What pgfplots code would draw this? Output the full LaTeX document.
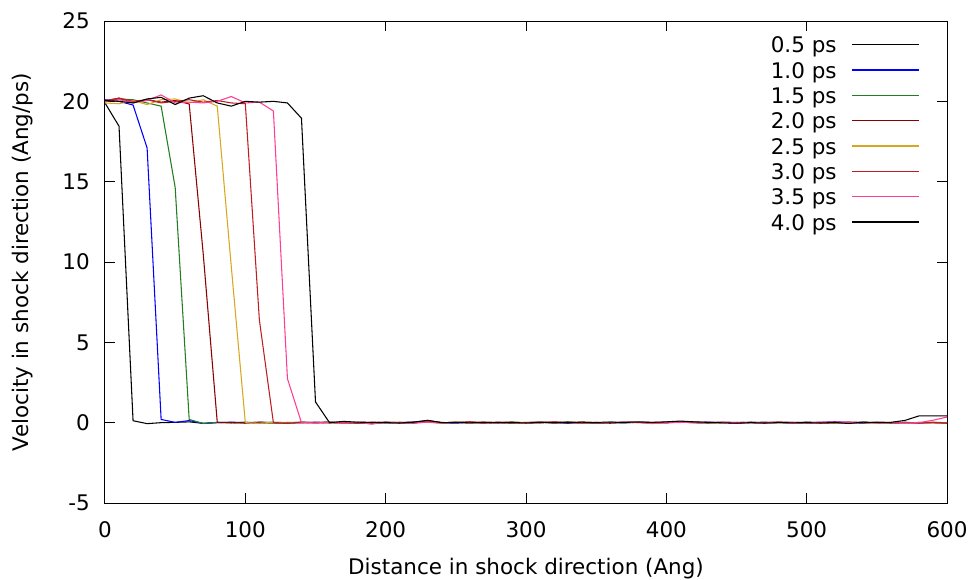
\documentclass[border=0pt]{standalone}
\usepackage{fontspec}
\setmainfont{DejaVu Sans}
\usepackage{pgfplots}
\usepackage{pgfplotstable}
\pgfplotsset{compat=1.18}
\definecolor{cA}{RGB}{0,0,0}
\definecolor{cB}{RGB}{0,0,255}
\definecolor{cC}{RGB}{34,125,34}
\definecolor{cD}{RGB}{139,0,0}
\definecolor{cE}{RGB}{218,165,32}
\definecolor{cF}{RGB}{190,30,35}
\definecolor{cG}{RGB}{255,60,150}
\definecolor{cH}{RGB}{0,0,0}
\pgfplotstableread{
x     s1     s2     s3     s4     s5     s6     s7     s8
0   19.90  20.10  20.00  20.00  19.90  20.05  20.00  20.05
10  18.45  20.00  20.15  20.20  19.85  20.20  20.10  20.00
20   0.12  19.77  20.10  19.90  20.05  20.00  19.95  19.90
30  -0.06  17.10  19.90  20.10  19.80  20.10  20.05  20.15
40   0.00   0.20  19.70  19.95  20.10  19.90  20.40  20.25
50   0.02   0.02  14.65  20.05  20.15  20.00  19.90  19.80
60   0.05   0.13   0.20  19.84  19.90  20.10  19.95  20.20
70  -0.04  -0.05  -0.05  10.50  20.10  19.95  19.90  20.35
80   0.01   0.00   0.02   0.02  19.70  20.05  20.00  19.90
90   0.00   0.03  -0.02   0.01   9.70  19.90  20.30  19.70
100 -0.02   0.01   0.03  -0.01   0.00  19.85  19.90  20.00
110  0.03  -0.02   0.00   0.02  -0.03   6.40  19.95  19.95
120  0.01   0.02  -0.03   0.00   0.02   0.00  19.40  20.00
130 -0.03   0.00   0.01  -0.02   0.01  -0.02   2.74  19.90
140  0.02  -0.01   0.02   0.03  -0.01   0.01   0.00  18.95
150  0.00   0.03  -0.01   0.01   0.02   0.00  -0.01   1.29
160  0.04   0.01   0.02  -0.02   0.00   0.02   0.01   0.00
170 -0.02  -0.03   0.00   0.02  -0.03   0.01  -0.02   0.08
180  0.01   0.02  -0.04   0.00   0.01  -0.03   0.02   0.03
190 -0.01   0.00   0.03  -0.07   0.02   0.00  -0.08   0.02
200  0.03  -0.02   0.01   0.02  -0.01   0.02   0.01   0.00
210  0.00   0.01  -0.02   0.01   0.03  -0.01   0.00  -0.02
220 -0.02   0.04   0.02  -0.01   0.00   0.03  -0.02   0.03
230  0.05   0.12   0.03   0.10   0.02   0.06   0.04   0.15
240 -0.01   0.00  -0.02   0.01  -0.03   0.00  -0.01   0.00
250  0.02  -0.03   0.04   0.00   0.05   0.02   0.01   0.01
260  0.00   0.02  -0.01   0.06  -0.02   0.01   0.03  -0.01
270  0.03  -0.01   0.02  -0.02   0.01  -0.03   0.00   0.02
280 -0.02   0.03   0.00   0.01   0.03   0.02  -0.02   0.00
290  0.01   0.00   0.05  -0.03   0.00   0.01   0.02   0.01
300  0.00  -0.02  -0.01   0.02  -0.04   0.00   0.00  -0.02
310  0.04   0.01   0.03   0.00   0.02  -0.02   0.03   0.02
320 -0.03   0.02   0.00   0.04   0.01   0.05  -0.01   0.00
330  0.02  -0.04   0.06  -0.01   0.00   0.00   0.02   0.01
340  0.00   0.03  -0.02   0.02   0.04  -0.03   0.00   0.03
350 -0.01   0.00   0.01  -0.02   0.01   0.02   0.01   0.00
360  0.03   0.02   0.04   0.01  -0.02   0.00  -0.02  -0.02
370  0.00  -0.01   0.00   0.03   0.02   0.01   0.03   0.02
380  0.02   0.04   0.05   0.00   0.03   0.02   0.01   0.04
390 -0.02   0.00  -0.03   0.02  -0.06   0.00  -0.04   0.02
400  0.01   0.02   0.01  -0.01   0.02   0.03   0.00   0.05
410  0.03   0.05   0.02   0.04   0.01   0.06   0.02   0.10
420  0.00   0.01   0.03   0.00   0.05   0.02   0.04   0.05
430 -0.02   0.03  -0.01   0.02   0.00  -0.01   0.00   0.02
440  0.01   0.00   0.02   0.01  -0.02   0.02   0.03  -0.01
450  0.02  -0.02   0.00  -0.02   0.01   0.00  -0.01  -0.03
460  0.00   0.01   0.03   0.01   0.00   0.02   0.01   0.00
470 -0.01   0.03  -0.02   0.00   0.03  -0.01   0.00  -0.02
480  0.02   0.00   0.01   0.03  -0.01   0.03   0.02   0.00
490  0.00   0.02  -0.01   0.01   0.02   0.00  -0.02  -0.01
500  0.03  -0.01   0.02  -0.02   0.00   0.01   0.00   0.00
510  0.01   0.02   0.00   0.02   0.01  -0.03   0.01  -0.02
520 -0.02   0.06   0.01   0.00  -0.02   0.00   0.05   0.01
530  0.02   0.01  -0.02   0.03   0.02   0.02   0.00  -0.05
540  0.00  -0.03   0.04  -0.01   0.00   0.01   0.02   0.03
550  0.01   0.02   0.00   0.02  -0.03   0.00  -0.01   0.01
560  0.00   0.00  -0.02   0.00   0.02  -0.02   0.00   0.02
570  0.02  -0.01   0.01   0.01   0.00   0.01  -0.02   0.14
580 -0.01   0.01   0.00  -0.02   0.01  -0.01   0.00   0.42
590  0.01   0.00   0.02   0.00  -0.02   0.02   0.15   0.42
600  0.00  -0.02   0.00  -0.03  -0.01  -0.02   0.35   0.42
}\datatable
\begin{document}
\begin{tikzpicture}
\begin{axis}[
  scale only axis, width=631.5pt, height=361.5pt,
  at={(0,0)}, anchor=south west,
  font=\fontsize{16.1}{19}\selectfont,
  /pgf/number format/assume math mode=true,
  xmin=0, xmax=600, ymin=-5, ymax=25,
  xtick={0,100,...,600}, ytick={-5,0,...,25},
  minor tick num=0,
  tick align=inside, major tick length=7.5pt,
  axis line style={line width=0.75pt},
  every tick/.style={black, line width=0.75pt},
  xticklabel style={anchor=base, inner sep=0pt, yshift=-25.7pt},
  yticklabel style={anchor=east, inner sep=0pt, xshift=-11.25pt},
  xlabel={Distance in shock direction (Ang)},
  ylabel={Velocity in shock direction (Ang/ps)},
  xlabel style={at={(axis description cs:0.5,-0.1473)}, anchor=base, inner sep=0pt},
  ylabel style={at={(axis description cs:-0.098,0.5)}, anchor=center, inner sep=0pt},
  legend plot pos=right,
  legend cell align=right,
  legend image code/.code={\draw[line width=1.1pt,#1] (0pt,2.15pt) -- (50.25pt,2.15pt);},
  legend style={at={(axis description cs:0.968,0.967)}, anchor=north east,
    draw=none, fill=none, inner sep=0pt, outer sep=0pt,
    row sep=3pt, column sep=11.25pt,
    nodes={inner sep=0pt, text height=12pt, text depth=4pt}},
  every axis plot/.append style={line width=0.8pt, mark=none},
]
\addplot[color=cA] table[x=x,y=s1]{\datatable};
\addlegendentry{0.5 ps}
\addplot[color=cB] table[x=x,y=s2]{\datatable};
\addlegendentry{1.0 ps}
\addplot[color=cC] table[x=x,y=s3]{\datatable};
\addlegendentry{1.5 ps}
\addplot[color=cD] table[x=x,y=s4]{\datatable};
\addlegendentry{2.0 ps}
\addplot[color=cE] table[x=x,y=s5]{\datatable};
\addlegendentry{2.5 ps}
\addplot[color=cF] table[x=x,y=s6]{\datatable};
\addlegendentry{3.0 ps}
\addplot[color=cG] table[x=x,y=s7]{\datatable};
\addlegendentry{3.5 ps}
\addplot[color=cH] table[x=x,y=s8]{\datatable};
\addlegendentry{4.0 ps}
\end{axis}
\pgfresetboundingbox
\path (-78.75pt,-57pt) rectangle (651pt,377.25pt);
\end{tikzpicture}
\end{document}
